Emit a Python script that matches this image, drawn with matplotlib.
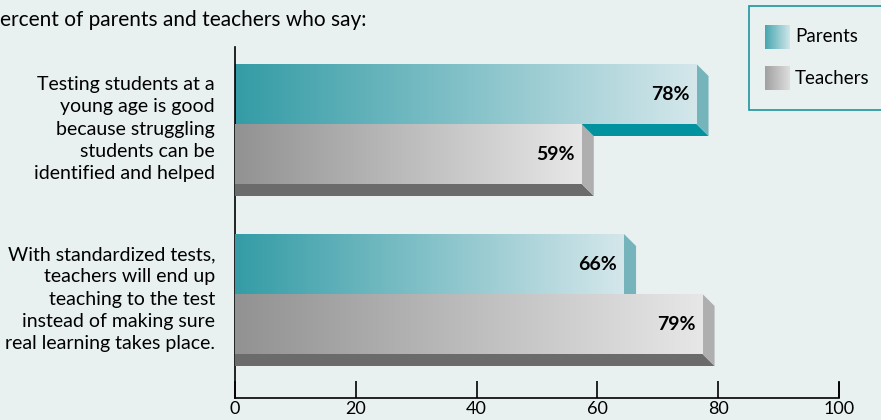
import matplotlib.pyplot as plt
from matplotlib.patches import Polygon, Rectangle
import numpy as np

# data
categories = ["Testing students at a\nyoung age is good\nbecause struggling\nstudents can be\nidentified and helped",
              "With standardized tests,\nteachers will end up\nteaching to the test\ninstead of making sure\nreal learning takes place."]
series = ["Parents", "Teachers"]
parents = [78, 66]
teachers = [59, 79]
xticks = [0, 20, 40, 60, 80, 100]

bg = '#E8F1F0'
plt.rcParams['font.family'] = ['Lato', 'DejaVu Sans']

W, H = 881, 420
fig = plt.figure(figsize=(W / 100, H / 100), dpi=100, facecolor=bg)
ax = fig.add_axes([235 / W, 22 / H, 604 / W, 351 / H])
ax.set_facecolor(bg)

bar_h = 60   # y units are pixels from the top of the axes
dy = 12
dx = 2.0
group_top = [17, 187]

styles = {
    'Parents': dict(c0=(52, 156, 166), c1=(212, 231, 235), side='#76B4BB', bottom='#00929E'),
    'Teachers': dict(c0=(146, 146, 146), c1=(231, 231, 231), side='#AFAFAF', bottom='#6B6B6B'),
}


def grad(c0, c1, n=256):
    t = np.linspace(0, 1, n)[:, None]
    return ((np.array(c0) * (1 - t) + np.array(c1) * t) / 255)[None, :, :]


def draw_bar(value, top, st, z):
    vf = value - 1.6
    bot = top + bar_h
    ax.add_patch(Polygon([(0, bot), (vf, bot), (vf + dx, bot + dy), (0, bot + dy)],
                         closed=True, facecolor=st['bottom'], lw=0, zorder=z))
    ax.add_patch(Polygon([(vf, top), (vf + dx, top + dy), (vf + dx, bot + dy), (vf, bot)],
                         closed=True, facecolor=st['side'], lw=0, zorder=z + 0.1))
    ax.imshow(grad(st['c0'], st['c1']), extent=(0, vf, bot, top), aspect='auto',
              interpolation='bilinear', zorder=z + 0.2)
    ax.text(vf - 1.2, top + bar_h / 2 + 1, f'{value}%', ha='right', va='center',
            fontsize=14, fontweight='bold', zorder=z + 0.3)


for i, top in enumerate(group_top):
    draw_bar(parents[i], top, styles['Parents'], 2 + 4 * i)
    draw_bar(teachers[i], top + bar_h, styles['Teachers'], 4 + 4 * i)
    ax.text(-3.3, top + bar_h + 5, categories[i], ha='right', va='center',
            multialignment='right', fontsize=14, linespacing=1.36)

ax.set_xlim(0, 100)
ax.set_ylim(351, 0)
for s in ['top', 'right']:
    ax.spines[s].set_visible(False)
ax.spines['left'].set_linewidth(1.2)
ax.spines['bottom'].set_linewidth(1.2)
ax.set_yticks([])
ax.set_xticks(xticks)
ax.tick_params(axis='x', direction='in', length=12, width=1.2, pad=2, labelsize=13)
ax.vlines(100, 335, 351, color='black', lw=1.2, clip_on=False)

fig.text(0, 1 - 20 / H, "ercent of parents and teachers who say:", fontsize=15, va='center')

# legend box (above the main axes background)
fig.patches.append(Rectangle((749 / W, 1 - 110 / H), 0.3, 104 / H, transform=fig.transFigure,
                             facecolor=bg, edgecolor='#1B95A0', lw=1.2, zorder=1))
leg_y = [37, 78]
leg_grad = {'Parents': ((70, 166, 176), (208, 230, 234)),
            'Teachers': ((160, 160, 160), (222, 222, 222))}
for name, yc in zip(series, leg_y):
    sax = fig.add_axes([765 / W, 1 - (yc + 12) / H, 25 / W, 24 / H], zorder=5)
    sax.imshow(grad(*leg_grad[name]), aspect='auto', interpolation='bilinear')
    sax.axis('off')
    fig.text(795 / W, 1 - yc / H, name, fontsize=13.5, va='center', zorder=6)

fig.savefig('out.png', dpi=100, facecolor=bg)
